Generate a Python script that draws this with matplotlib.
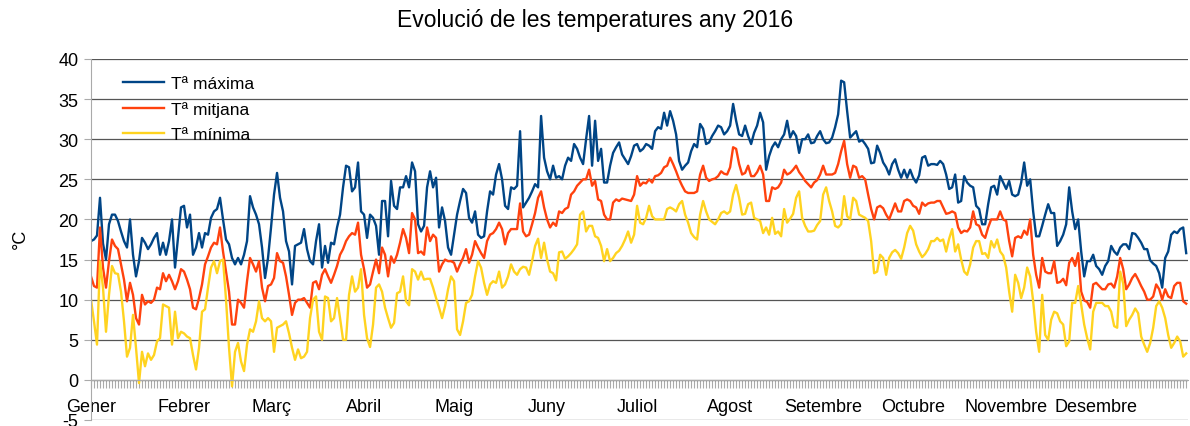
import numpy as np
from matplotlib import pyplot as plt

# daily values 2016 (366 days)
t_max = [
    17.3, 17.5, 18.0, 22.7, 17.0, 15.0, 19.4, 20.6, 20.6, 19.8,
    18.5, 17.3, 16.5, 20.0, 15.6, 12.9, 14.8, 17.7, 17.1, 16.3,
    16.9, 17.7, 18.3, 15.6, 17.1, 15.6, 17.3, 20.0, 14.0, 17.7,
    21.5, 21.7, 19.0, 20.6, 15.6, 16.5, 18.3, 16.5, 18.3, 18.1,
    20.2, 21.0, 21.3, 22.7, 20.0, 17.5, 16.9, 15.2, 14.4, 15.2,
    14.4, 15.6, 17.3, 22.9, 21.5, 20.6, 19.4, 16.5, 12.7, 15.2,
    19.0, 23.1, 25.8, 22.7, 21.0, 17.3, 16.0, 11.9, 16.7, 16.9,
    17.1, 18.8, 16.3, 14.8, 14.4, 17.3, 19.4, 14.0, 16.7, 14.6,
    17.1, 16.9, 19.0, 20.6, 24.0, 26.7, 26.5, 23.5, 24.0, 27.1,
    21.0, 20.6, 17.7, 20.6, 20.2, 19.2, 15.6, 22.3, 22.3, 17.9,
    24.8, 21.7, 21.3, 24.0, 24.0, 25.4, 24.0, 27.1, 26.0, 19.4,
    18.5, 19.2, 24.0, 26.0, 24.0, 25.2, 19.0, 21.5, 19.8, 16.5,
    15.6, 18.1, 20.6, 22.3, 23.8, 23.3, 20.2, 19.6, 21.0, 18.1,
    17.7, 17.9, 21.0, 23.5, 23.1, 25.6, 26.9, 25.0, 21.7, 21.3,
    24.0, 23.8, 24.2, 31.0, 21.5, 22.1, 22.7, 23.5, 24.4, 24.0,
    32.9, 27.7, 26.0, 25.0, 26.7, 25.2, 25.4, 25.0, 26.7, 27.7,
    27.3, 29.4, 28.8, 27.7, 26.9, 30.0, 32.9, 26.7, 32.3, 27.3,
    28.8, 24.6, 24.6, 26.7, 28.3, 29.0, 29.6, 28.1, 27.5, 26.9,
    27.9, 29.2, 29.4, 28.5, 28.8, 29.4, 29.2, 28.8, 31.0, 31.5,
    31.3, 33.3, 31.7, 33.5, 32.3, 30.6, 27.3, 26.2, 26.7, 27.1,
    28.5, 29.4, 29.0, 31.9, 31.3, 29.4, 29.6, 30.4, 31.0, 31.7,
    31.5, 30.6, 31.0, 31.7, 34.4, 32.3, 30.6, 30.4, 31.7, 30.4,
    29.4, 30.8, 31.7, 33.3, 32.1, 26.2, 27.9, 29.0, 29.6, 29.0,
    30.0, 30.6, 32.3, 30.2, 31.0, 30.4, 28.3, 30.0, 30.0, 30.6,
    29.5, 29.6, 30.4, 31.0, 30.0, 29.5, 29.6, 30.2, 31.5, 33.1,
    37.3, 37.1, 33.5, 30.2, 30.6, 31.0, 29.7, 29.9, 29.4, 28.8,
    27.0, 27.1, 29.2, 28.3, 27.1, 26.5, 25.6, 26.9, 27.5, 26.2,
    25.2, 26.2, 25.2, 26.2, 25.2, 24.6, 25.5, 27.7, 27.9, 26.7,
    26.9, 26.9, 26.8, 27.3, 26.9, 25.6, 23.8, 24.0, 25.6, 22.1,
    22.3, 25.4, 24.6, 24.2, 24.0, 21.7, 21.3, 19.4, 19.4, 21.9,
    24.0, 24.2, 23.1, 25.4, 24.6, 23.8, 24.8, 23.1, 22.9, 23.1,
    24.6, 27.1, 24.2, 25.0, 21.0, 17.9, 17.9, 19.2, 20.6, 21.9,
    20.8, 20.8, 16.7, 17.3, 18.1, 19.4, 24.0, 21.0, 18.8, 20.0,
    16.0, 12.9, 14.8, 14.8, 15.6, 14.2, 13.8, 13.1, 14.2, 14.8,
    16.7, 16.0, 15.6, 16.5, 16.9, 16.9, 16.3, 18.3, 18.2, 17.7,
    17.1, 16.3, 16.3, 14.9, 14.5, 14.2, 13.3, 11.5, 15.2, 16.0,
    18.1, 18.5, 18.3, 18.8, 19.0, 15.8,
]

t_mean = [
    12.9, 11.7, 11.5, 19.0, 14.0, 11.5, 14.8, 17.5, 16.7, 16.3,
    14.4, 12.5, 9.8, 12.1, 10.6, 7.7, 6.9, 10.6, 9.4, 9.8,
    9.6, 10.0, 11.5, 11.3, 13.3, 12.3, 13.1, 12.3, 11.3, 12.3,
    13.8, 13.5, 12.5, 11.3, 9.0, 8.8, 10.2, 11.9, 14.4, 15.4,
    16.5, 17.1, 16.9, 19.0, 16.0, 13.5, 11.0, 6.9, 6.9, 10.0,
    9.6, 9.0, 12.3, 15.2, 14.4, 13.5, 14.8, 11.5, 9.8, 11.7,
    11.9, 12.7, 15.8, 14.8, 14.6, 12.9, 10.6, 8.1, 9.6, 10.0,
    10.0, 10.2, 9.6, 9.0, 12.1, 12.3, 11.3, 13.1, 13.8, 12.9,
    12.1, 13.1, 14.2, 15.6, 16.3, 17.3, 17.9, 18.3, 18.1, 19.6,
    15.6, 13.8, 11.5, 11.9, 13.5, 15.0, 13.3, 16.5, 15.6, 12.9,
    15.4, 14.6, 15.6, 17.1, 18.8, 17.7, 15.8, 20.8, 20.0, 15.8,
    16.0, 15.6, 19.0, 17.3, 18.1, 17.7, 13.5, 14.4, 15.0, 14.8,
    14.8, 14.6, 13.5, 14.4, 15.2, 16.3, 14.6, 15.6, 17.3, 16.5,
    15.8, 15.2, 17.3, 18.1, 18.3, 18.8, 19.6, 18.8, 16.9, 18.3,
    18.8, 18.8, 18.8, 22.0, 18.5, 17.9, 18.1, 19.4, 20.8, 22.7,
    23.5, 21.5, 20.0, 19.0, 19.6, 19.2, 21.0, 20.8, 21.3, 21.5,
    23.1, 23.5, 24.2, 24.6, 25.0, 25.0, 26.2, 24.2, 24.8, 22.5,
    22.3, 20.6, 20.0, 20.0, 22.1, 22.5, 22.3, 22.6, 22.5, 22.4,
    22.3, 23.1, 25.4, 24.2, 24.6, 24.5, 25.0, 24.6, 25.4, 25.5,
    25.8, 26.5, 26.7, 27.7, 26.9, 26.0, 25.0, 24.2, 23.5, 23.3,
    23.3, 23.3, 23.5, 25.6, 26.7, 25.2, 24.8, 25.0, 25.1, 25.4,
    26.0, 25.7, 25.6, 26.5, 29.0, 28.8, 26.9, 25.6, 25.8, 26.7,
    25.4, 25.4, 25.9, 26.7, 25.6, 22.3, 22.3, 24.0, 23.8, 24.0,
    24.6, 26.2, 25.6, 25.8, 26.2, 26.7, 25.9, 25.4, 24.8, 24.4,
    24.0, 24.6, 24.9, 25.6, 26.7, 25.6, 25.6, 25.6, 25.8, 26.9,
    28.5, 29.8, 26.9, 25.2, 26.7, 26.5, 25.2, 25.4, 25.0, 23.1,
    21.3, 20.0, 21.5, 21.7, 21.4, 20.6, 20.0, 21.0, 22.0, 21.0,
    21.0, 22.3, 22.5, 22.3, 21.7, 21.5, 20.7, 22.1, 21.7, 22.0,
    22.1, 22.1, 22.3, 22.3, 21.5, 20.7, 20.8, 21.0, 20.8, 19.0,
    18.3, 18.6, 18.5, 19.0, 21.0, 19.4, 19.2, 18.1, 17.7, 19.0,
    20.0, 20.0, 20.0, 21.0, 20.0, 19.8, 17.3, 15.4, 17.7, 17.9,
    17.7, 18.6, 18.1, 20.0, 15.6, 13.1, 11.5, 15.2, 13.5, 13.3,
    13.3, 14.8, 12.1, 12.2, 12.6, 11.8, 14.6, 15.2, 14.2, 15.8,
    11.0, 9.9, 9.7, 9.0, 11.9, 12.1, 11.7, 11.3, 11.3, 11.9,
    12.0, 11.5, 12.9, 15.2, 13.8, 11.3, 11.9, 12.7, 13.2, 12.5,
    11.7, 11.0, 10.0, 10.0, 10.4, 11.9, 11.3, 10.0, 11.3, 10.4,
    10.2, 11.7, 12.1, 12.1, 9.8, 9.5,
]

t_min = [
    10.0, 7.3, 4.4, 14.8, 11.5, 6.0, 10.6, 14.2, 13.3, 13.2,
    11.0, 7.3, 2.9, 4.0, 8.1, 4.0, -0.4, 3.5, 1.7, 3.3,
    2.5, 3.1, 4.8, 5.2, 9.4, 9.2, 9.0, 4.4, 8.5, 5.2,
    6.0, 5.8, 5.4, 5.2, 3.1, 1.3, 4.0, 8.5, 8.8, 11.5,
    14.0, 14.8, 13.3, 14.8, 15.0, 10.0, 4.0, -0.8, 3.5, 4.6,
    2.3, 1.1, 4.4, 6.3, 6.0, 7.3, 9.8, 7.7, 7.3, 7.7,
    7.3, 3.5, 6.5, 6.7, 6.9, 7.3, 5.8, 4.0, 2.5, 3.8,
    2.7, 2.9, 3.5, 7.7, 10.0, 10.4, 6.0, 5.0, 10.4, 10.2,
    7.3, 7.7, 10.2, 7.7, 5.0, 5.0, 10.6, 12.9, 11.0, 11.5,
    13.8, 8.1, 5.2, 4.1, 6.9, 11.5, 11.9, 11.0, 9.0, 7.7,
    6.5, 7.1, 10.8, 11.0, 12.9, 9.8, 9.3, 13.8, 13.5, 12.5,
    13.5, 12.5, 12.6, 12.6, 11.5, 10.2, 9.0, 7.7, 9.2, 11.3,
    12.9, 12.3, 6.3, 5.6, 7.3, 9.6, 9.8, 10.6, 12.9, 14.8,
    14.0, 12.1, 10.6, 11.9, 12.3, 12.1, 13.5, 11.5, 11.9, 12.9,
    14.4, 13.5, 13.1, 13.8, 14.1, 14.0, 13.1, 14.8, 16.7, 17.6,
    15.2, 17.1, 15.0, 13.5, 13.3, 12.4, 15.9, 16.0, 15.1, 15.4,
    15.8, 16.3, 16.9, 20.6, 21.0, 18.5, 19.2, 19.2, 17.9, 17.7,
    16.7, 14.8, 16.3, 14.8, 15.2, 15.8, 16.1, 16.7, 17.5, 18.5,
    17.1, 18.1, 21.7, 19.6, 19.4, 20.2, 21.7, 20.4, 20.0, 20.0,
    20.0, 20.0, 21.3, 21.5, 21.3, 21.0, 21.9, 22.3, 20.6, 19.6,
    18.3, 17.8, 17.5, 20.6, 22.3, 21.0, 20.0, 19.7, 19.4, 20.0,
    20.8, 21.0, 20.7, 21.0, 23.1, 24.3, 22.7, 20.6, 20.7, 21.9,
    22.1, 20.2, 20.0, 19.8, 18.3, 19.0, 18.1, 20.2, 18.2, 18.5,
    17.9, 21.3, 19.6, 20.1, 20.7, 22.7, 23.5, 20.2, 19.2, 18.5,
    18.5, 18.6, 19.3, 19.8, 23.1, 24.0, 22.3, 21.0, 19.2, 19.0,
    19.4, 22.9, 20.4, 20.0, 22.7, 22.3, 20.6, 20.4, 20.2, 19.8,
    17.3, 13.3, 13.5, 15.6, 15.2, 13.1, 15.2, 15.9, 16.2, 15.8,
    15.1, 16.5, 18.3, 19.2, 18.6, 16.9, 16.0, 15.3, 15.7, 16.3,
    17.3, 17.3, 17.7, 17.3, 17.5, 16.0, 17.6, 18.8, 16.0, 16.9,
    15.0, 13.5, 13.1, 14.4, 16.5, 17.3, 17.3, 15.7, 15.8, 15.2,
    17.3, 16.5, 17.5, 16.0, 15.5, 14.0, 11.0, 8.5, 13.1, 12.1,
    10.2, 11.5, 14.0, 12.9, 9.8, 6.0, 3.5, 10.6, 5.6, 5.0,
    7.5, 8.5, 8.3, 7.3, 6.9, 4.2, 4.8, 9.6, 9.6, 11.7,
    9.4, 6.9, 5.2, 3.8, 8.5, 9.6, 9.6, 9.6, 9.2, 9.2,
    8.5, 6.7, 6.5, 13.5, 12.0, 6.7, 7.5, 8.1, 8.9, 8.3,
    5.4, 4.4, 3.5, 4.6, 6.5, 9.2, 9.8, 9.0, 7.7, 5.6,
    4.0, 4.6, 5.4, 4.8, 2.9, 3.3,
]

months = ['Gener', 'Febrer', 'Març', 'Abril', 'Maig', 'Juny', 'Juliol',
          'Agost', 'Setembre', 'Octubre', 'Novembre', 'Desembre']
month_starts = [0, 31, 60, 91, 121, 152, 182, 213, 244, 274, 305, 335]

series = [(t_max, 'Tª máxima', '#004586'),
          (t_mean, 'Tª mitjana', '#ff420e'),
          (t_min, 'Tª mínima', '#ffd320')]


def main():
    plt.rcParams['font.family'] = ['Liberation Sans', 'DejaVu Sans']
    plt.rcParams['axes.unicode_minus'] = False

    fig = plt.figure(figsize=(11.9, 4.27), dpi=100)
    ax = fig.add_axes([91 / 1190, 1 - 421 / 427, 1097 / 1190, 361 / 427])

    days = np.arange(len(t_max))
    for values, label, color in series:
        ax.plot(days, values, color=color, lw=1.7, label=label)

    ax.set_xlim(0, 365.6)
    ax.set_ylim(-5, 40)
    ax.set_yticks(np.arange(-5, 41, 5))
    ax.yaxis.grid(True, color='#555555', lw=0.9)
    ax.set_axisbelow(True)

    # x axis sits on 0 with a tick for every day
    ax.spines['bottom'].set_position(('data', 0))
    ax.spines['bottom'].set_color('#aaaaaa')
    ax.spines['left'].set_color('#aaaaaa')
    ax.spines['top'].set_visible(False)
    ax.spines['right'].set_visible(False)
    ax.set_xticks(month_starts)
    ax.set_xticklabels(months)
    ax.set_xticks(days, minor=True)
    ax.tick_params(axis='x', which='both', direction='out', length=6,
                   color='#aaaaaa', width=0.8, pad=7, labelsize=13)
    ax.tick_params(axis='y', direction='out', length=5, color='#aaaaaa',
                   labelsize=13, pad=4)

    ax.legend(loc='upper left', bbox_to_anchor=(0.029, 0.952), frameon=False,
              fontsize=12.5, handlelength=2.4, handletextpad=0.4,
              labelspacing=0.55, borderaxespad=0, borderpad=0)

    fig.text(0.5, 1 - 20 / 427, 'Evolució de les temperatures any 2016',
             ha='center', va='center', fontsize=16.5)
    fig.text(0.017, 0.44, '°C', rotation=90, ha='center', va='center',
             fontsize=13)

    fig.savefig('out.png', dpi=100)


if __name__ == '__main__':
    main()
